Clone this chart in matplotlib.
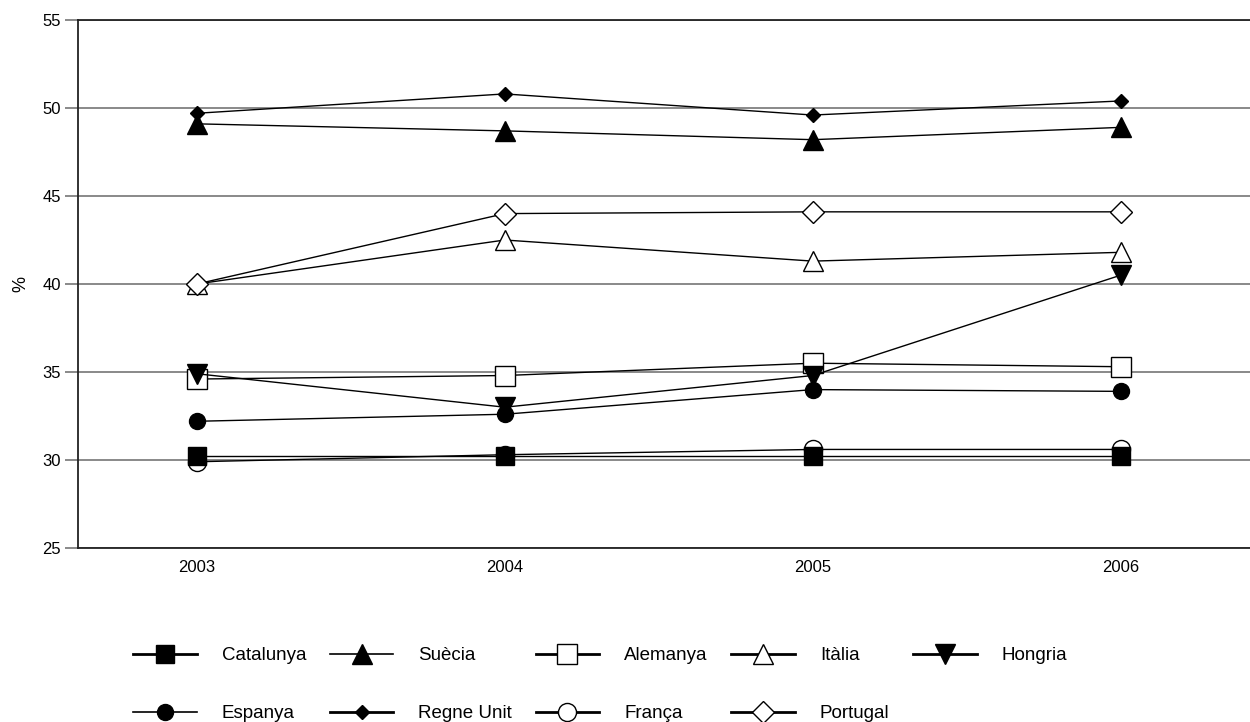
import matplotlib
matplotlib.use("Agg")
import matplotlib.pyplot as plt
from matplotlib.ticker import MultipleLocator
from matplotlib import font_manager

years = ["2003", "2004", "2005", "2006"]
catalunya = [30.2, 30.2, 30.2, 30.2]
espanya = [32.2, 32.6, 34.0, 33.9]
suecia = [49.1, 48.7, 48.2, 48.9]
regne_unit = [49.7, 50.8, 49.6, 50.4]
alemanya = [34.6, 34.8, 35.5, 35.3]
franca = [29.9, 30.3, 30.6, 30.6]
italia = [40.0, 42.5, 41.3, 41.8]
portugal = [40.0, 44.0, 44.1, 44.1]
hongria = [34.9, 33.0, 34.8, 40.5]

names = {f.name for f in font_manager.fontManager.ttflist}
fam = ["Liberation Sans Narrow", "Liberation Sans", "DejaVu Sans"]
fam = [f for f in fam if f in names] or ["DejaVu Sans"]
plt.rcParams["font.family"] = fam

fig = plt.figure(figsize=(12.5, 7.22), dpi=100)
ax = fig.add_axes([78 / 1250, 1 - 548 / 722, 1 - 78 / 1250, (548 - 20) / 722])

x = list(range(len(years)))
series = [
    ("Catalunya", catalunya, dict(marker="s", ms=12.5, mfc="black", mec="black")),
    ("Espanya", espanya, dict(marker="o", ms=11.5, mfc="black", mec="black")),
    ("Suècia", suecia, dict(marker="^", ms=15, mfc="black", mec="black")),
    ("Regne Unit", regne_unit, dict(marker="D", ms=7.5, mfc="black", mec="black")),
    ("Alemanya", alemanya, dict(marker="s", ms=14, mfc="white", mec="black", mew=1.0)),
    ("França", franca, dict(marker="o", ms=13, mfc="white", mec="black", mew=1.0)),
    ("Itàlia", italia, dict(marker="^", ms=15, mfc="white", mec="black", mew=1.0)),
    ("Portugal", portugal, dict(marker="D", ms=11, mfc="white", mec="black", mew=1.0)),
    ("Hongria", hongria, dict(marker="v", ms=15, mfc="black", mec="black")),
]
draw_order = ["França", "Catalunya", "Espanya", "Alemanya", "Hongria", "Itàlia", "Portugal", "Suècia", "Regne Unit"]
handles = {}
for name, vals, st in series:
    z = 3 + draw_order.index(name) * 0.1
    (ln,) = ax.plot(x, vals, label=name, color="black", lw=1.0, zorder=z, **st)
    handles[name] = ln

ax.set_xlim(-0.386, 3.42)
ax.set_ylim(25, 55)
ax.yaxis.set_major_locator(MultipleLocator(5))
ax.set_xticks(x)
ax.set_xticklabels(years)
ax.grid(axis="y", color="#808080", lw=1.3, zorder=1)
ax.set_axisbelow(True)
ax.spines["right"].set_visible(False)
for s in ["left", "bottom", "top"]:
    ax.spines[s].set_color("#222222")
    ax.spines[s].set_linewidth(1.3)
ax.tick_params(axis="x", length=0, pad=9, labelsize=12)
ax.tick_params(axis="y", length=9.5, width=1.3, color="#808080", pad=3, labelsize=12)
ax.set_ylabel("%", fontsize=13, labelpad=9)

order = [n for n, _, _ in series]
leg = fig.legend(
    [handles[n] for n in order], order,
    loc="upper left", bbox_to_anchor=(133 / 1250, 1 - 647 / 722),
    ncol=5, frameon=False, fontsize=13.5,
    handlelength=3.4, handletextpad=1.33, columnspacing=1.25,
    labelspacing=2.2, borderpad=0, borderaxespad=0,
)
for ln, n in zip(leg.get_lines(), order):
    ln.set_linewidth(1.2 if n in ("Suècia", "Espanya") else 2.0)

fig.savefig("out.png", dpi=100)
